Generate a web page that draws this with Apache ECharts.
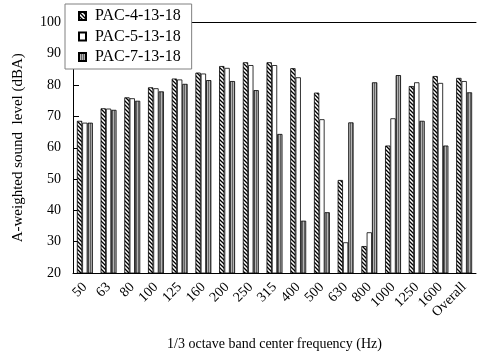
<!DOCTYPE html>
<html>
<head>
<meta charset="utf-8">
<script src="https://cdn.jsdelivr.net/npm/echarts@6/dist/echarts.min.js"></script>
<style>
  html, body { margin: 0; padding: 0; background: #fff; }
  #chart { width: 477px; height: 361px; }
</style>
</head>
<body>
<div id="chart"></div>
<script>
const categories = ["50", "63", "80", "100", "125", "160", "200", "250", "315", "400", "500", "630", "800", "1000", "1250", "1600", "Overall"];
const pac4 = [68.6, 72.6, 76.1, 79.3, 82.1, 84.0, 86.1, 87.3, 87.3, 85.4, 77.6, 49.7, 28.6, 60.7, 79.7, 82.9, 82.3];
const pac5 = [68.0, 72.5, 75.8, 79.0, 81.8, 83.7, 85.5, 86.4, 86.4, 82.5, 69.1, 29.8, 33.0, 69.4, 80.9, 80.7, 81.3];
const pac7 = [68.0, 72.1, 75.0, 78.0, 80.4, 81.6, 81.3, 78.4, 64.4, 36.7, 39.4, 68.1, 80.9, 83.2, 68.6, 60.7, 77.7];
const seriesNames = ["PAC-4-13-18", "PAC-5-13-18", "PAC-7-13-18"];

const FONT = "'Liberation Serif', 'DejaVu Serif', serif";

// diagonal hatch tile (\\\ direction)
function hatchTile() {
  const c = document.createElement("canvas");
  c.width = 4; c.height = 4;
  const g = c.getContext("2d");
  g.fillStyle = "#fff";
  g.fillRect(0, 0, 4, 4);
  g.strokeStyle = "#000";
  g.lineWidth = 1.3;
  g.beginPath();
  g.moveTo(-1, -1); g.lineTo(5, 5);
  g.moveTo(-1, 3); g.lineTo(1, 5);
  g.moveTo(3, -1); g.lineTo(5, 1);
  g.stroke();
  return c;
}

// vertical stripes, grey
function stripeTile() {
  const c = document.createElement("canvas");
  c.width = 2; c.height = 2;
  const g = c.getContext("2d");
  g.fillStyle = "#b4b4b4";
  g.fillRect(0, 0, 2, 2);
  g.fillStyle = "#606060";
  g.fillRect(0, 0, 1, 2);
  return c;
}

const fills = [
  { image: hatchTile(), repeat: "repeat" },
  "#ffffff",
  { image: stripeTile(), repeat: "repeat" },
];
const values = [pac4, pac5, pac7];

const chart = echarts.init(document.getElementById("chart"));
chart.setOption({
  animation: false,
  textStyle: { fontFamily: FONT },
  grid: { left: 73, right: 1, top: 22.5, bottom: 88 },
  legend: {
    data: seriesNames,
    orient: "vertical",
    left: 65,
    top: 4,
    padding: [4, 11, 4, 13],
    itemGap: 4.5,
    itemWidth: 7,
    itemHeight: 8,
    icon: "rect",
    backgroundColor: "#fff",
    borderColor: "#808080",
    borderWidth: 1,
    textStyle: { fontFamily: FONT, fontSize: 16, color: "#000", padding: [0, 0, 0, 4] },
  },
  xAxis: [
    {
      type: "category",
      data: categories,
      axisLine: { lineStyle: { color: "#000", width: 1 } },
      axisTick: { inside: true, length: 3, lineStyle: { color: "#000" } },
      axisLabel: { rotate: 45, color: "#000", fontSize: 14, fontFamily: FONT, margin: 12, interval: 0 },
      name: "1/3 octave band center frequency (Hz)",
      nameLocation: "middle",
      nameGap: 64,
      nameTextStyle: { fontFamily: FONT, fontSize: 14, color: "#000" },
    },
    {
      type: "category",
      data: categories,
      position: "top",
      axisLine: { lineStyle: { color: "#000", width: 1 } },
      axisTick: { show: false },
      axisLabel: { show: false },
    },
  ],
  yAxis: {
    type: "value",
    min: 20,
    max: 100,
    interval: 10,
    axisLine: { show: true, lineStyle: { color: "#000" } },
    axisTick: { show: true, inside: true, length: 6, lineStyle: { color: "#000" } },
    splitLine: { show: false },
    axisLabel: { color: "#000", fontSize: 14, fontFamily: FONT, margin: 12 },
    name: "A-weighted sound  level (dBA)",
    nameLocation: "middle",
    nameGap: 47,
    nameTextStyle: { fontFamily: FONT, fontSize: 15, color: "#000" },
  },
  series: seriesNames.map((name, i) => ({
    name,
    type: "bar",
    data: values[i],
    barWidth: 5.3,
    barGap: "0%",
    itemStyle: { color: fills[i], borderColor: "#000", borderWidth: 0.8 },
  })),
});
</script>
</body>
</html>
